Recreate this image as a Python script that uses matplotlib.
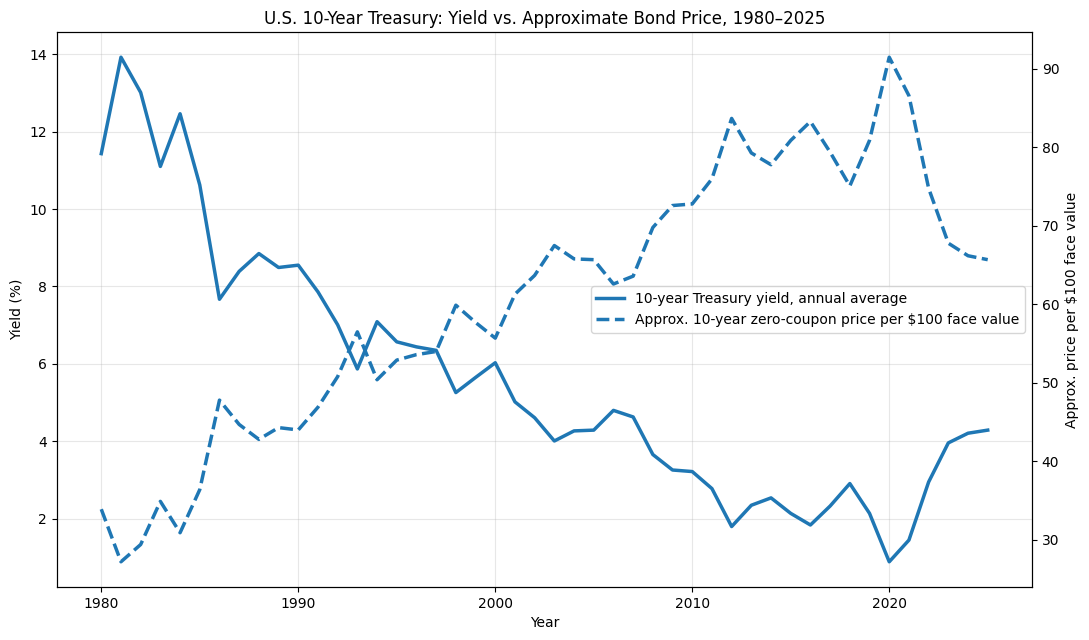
import matplotlib.pyplot as plt

years = list(range(1980, 2026))

# annual average 10-year yield, %
yield_pct = [11.43, 13.92, 13.01, 11.10, 12.46, 10.62, 7.67, 8.39, 8.85, 8.49,
             8.55, 7.86, 7.01, 5.87, 7.09, 6.57, 6.44, 6.35, 5.26, 5.65,
             6.03, 5.02, 4.61, 4.01, 4.27, 4.29, 4.80, 4.63, 3.66, 3.26,
             3.22, 2.78, 1.80, 2.35, 2.54, 2.14, 1.84, 2.33, 2.91, 2.14,
             0.89, 1.45, 2.95, 3.96, 4.21, 4.29]

# approx zero-coupon price per $100 face value
price = [33.9, 27.2, 29.4, 34.9, 30.9, 36.4, 47.8, 44.7, 42.8, 44.3,
         44.0, 46.9, 50.8, 56.5, 50.4, 52.9, 53.6, 54.0, 59.9, 57.7,
         55.7, 61.3, 63.7, 67.5, 65.8, 65.7, 62.6, 63.6, 69.8, 72.6,
         72.8, 76.0, 83.7, 79.3, 77.8, 80.9, 83.3, 79.4, 75.1, 80.9,
         91.5, 86.6, 74.8, 67.8, 66.2, 65.7]

fig, ax1 = plt.subplots(figsize=(10.89, 6.4), dpi=100)
l1, = ax1.plot(years, yield_pct, color='tab:blue', linewidth=2.5,
               label='10-year Treasury yield, annual average')
ax1.set_xlabel('Year')
ax1.set_ylabel('Yield (%)')
ax1.grid(True, alpha=0.3)

ax2 = ax1.twinx()
l2, = ax2.plot(years, price, color='tab:blue', linewidth=2.5, linestyle='--',
               label='Approx. 10-year zero-coupon price per $100 face value')
ax2.set_ylabel('Approx. price per $100 face value')

ax1.set_title('U.S. 10-Year Treasury: Yield vs. Approximate Bond Price, 1980\u20132025')
ax1.legend(handles=[l1, l2], loc='center right')

fig.subplots_adjust(left=0.0523, right=0.9477, top=0.95, bottom=0.0828)
fig.savefig('out.png', dpi=100)
